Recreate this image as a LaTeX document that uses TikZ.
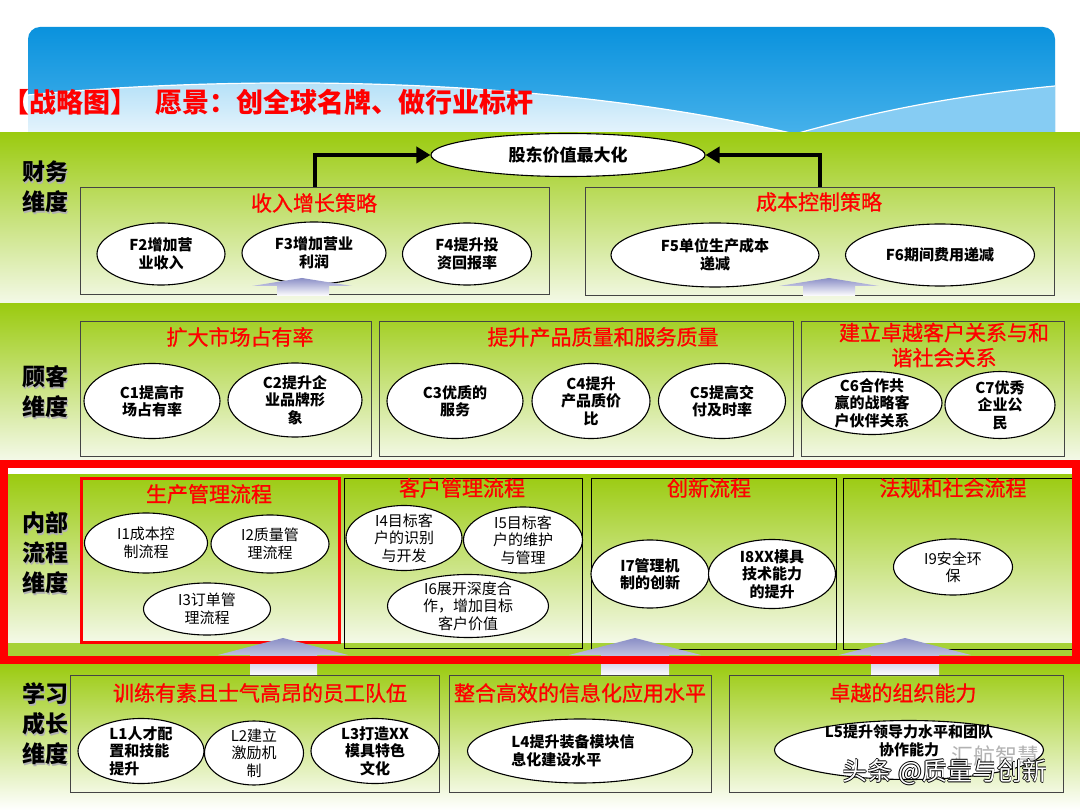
\documentclass[tikz,border=0pt]{standalone}
\usepackage{fontspec}
\setmainfont{Noto Sans CJK SC}
\newfontfamily\redtitlefont{Noto Sans CJK SC}[FakeBold=0.9]
\usetikzlibrary{arrows.meta,shapes.geometric}
\definecolor{gtop}{HTML}{9BCB10}
\definecolor{gbot}{HTML}{F4F9E8}
\definecolor{gstripe}{HTML}{A6D236}
\definecolor{btop}{HTML}{0A92DD}
\definecolor{bbot}{HTML}{55B9EE}
\definecolor{hlightA}{HTML}{A9DCF7}
\definecolor{hlightB}{HTML}{E6F4FC}
\definecolor{hmid}{HTML}{86CCF3}
\definecolor{lav}{HTML}{8A8EC6}
\definecolor{boxline}{HTML}{444444}
\begin{document}
\begin{tikzpicture}[x=1pt,y=-1pt,
  sbox/.style={draw=boxline,line width=1.3pt,inner sep=0pt,anchor=north west},
  tbox/.style={draw=black,line width=1pt,inner sep=0pt,anchor=north west},
  ttl/.style={text=red,font=\redtitlefont\fontsize{21}{25}\selectfont,inner sep=0pt,align=center},
  dimlab/.style={font=\fontsize{23}{30}\selectfont\bfseries,align=center,inner sep=0pt},
  oval/.style={ellipse,draw=black,line width=1.1pt,fill=white,inner sep=0pt},
  otxt/.style={align=center,font=\fontsize{15}{17.5}\selectfont\bfseries,inner sep=0pt},
  otxtr/.style={align=center,font=\fontsize{15}{17.5}\selectfont,inner sep=0pt},
  bigarrow/.style={line width=4.3pt,-{Triangle[length=14pt,width=16pt]}},
  uparrow/.style={top color=lav,bottom color=white,draw=none},
]
\useasboundingbox (0,0) rectangle (1080,810);
\fill[white] (0,0) rectangle (1080,810);

% ---------- blue header ----------
\shade[top color=btop,bottom color=bbot,rounded corners=12pt] (28,27) rectangle (1055,160);
\shade[top color=hlightA,bottom color=hlightB] (28,95) .. controls (200,78) and (520,70) .. (795,134) -- (28,134) -- cycle;
\fill[hmid] (795,134) .. controls (880,110) and (960,95) .. (1055,86) -- (1055,134) -- cycle;
\draw[white,line width=1.2pt] (28,95) .. controls (200,78) and (520,70) .. (795,134);
\draw[white,line width=1.2pt] (795,134) .. controls (880,110) and (960,95) .. (1055,86);

% ---------- bands ----------
\shade[top color=gtop,bottom color=gbot] (0,133) rectangle (1080,304);
\shade[top color=gtop,bottom color=gbot] (0,304) rectangle (1080,460);
\shade[top color=gtop,bottom color=white] (0,664) rectangle (1080,810);
\fill[white] (0,460) rectangle (1080,664);
\shade[top color=gtop,bottom color=gbot] (4,475) rectangle (1076,643);
\fill[gstripe] (4,643) rectangle (1076,656);

% ---------- title ----------
\node[anchor=west,text=red,font=\fontsize{27}{30}\selectfont\bfseries,inner sep=0pt] (title) at (2,102) {【战略图】\hspace{18pt}愿景：创全球名牌、做行业标杆};

% ---------- dimension labels ----------
\node[dimlab,text=black!30] (d1s) at (46.5,188.5) {财务\\维度};
\node[dimlab] (d1) at (45,187) {财务\\维度};
\node[dimlab,text=black!30] (d2s) at (46.5,393.5) {顾客\\维度};
\node[dimlab] (d2) at (45,392) {顾客\\维度};
\node[dimlab,text=black!30] (d3s) at (46.5,554.5) {内部\\流程\\维度};
\node[dimlab] (d3) at (45,553) {内部\\流程\\维度};
\node[dimlab,text=black!30] (d4s) at (46.5,725.5) {学习\\成长\\维度};
\node[dimlab] (d4) at (45,724) {学习\\成长\\维度};

% ---------- finance ----------
\node[oval,minimum width=274,minimum height=43] (sh) at (568,155) {};
\node[otxt,font=\fontsize{17}{20}\selectfont\bfseries] (sht) at (sh) {股东价值最大化};
\node[sbox,minimum width=469,minimum height=107] (fin1) at (80,187) {};
\node[sbox,minimum width=469,minimum height=108] (fin2) at (585,187) {};
\node[ttl] (fin1t) at (314,203) {收入增长策略};
\node[ttl] (fin2t) at (819,202) {成本控制策略};
\draw[bigarrow] (fin1.north) |- (sh.west);
\draw[bigarrow] (fin2.north) |- (sh.east);

\node[oval,minimum width=128,minimum height=62] (f2) at (161,254) {};
\node[otxt,font=\fontsize{15}{18}\selectfont\bfseries] (f2t) at (f2) {F2增加营\\业收入};
\node[oval,minimum width=144,minimum height=62] (f3) at (314,253) {};
\node[otxt,font=\fontsize{15}{18}\selectfont\bfseries] (f3t) at (f3) {F3增加营业\\利润};
\node[oval,minimum width=129,minimum height=62] (f4) at (467,254) {};
\node[otxt,font=\fontsize{15}{18}\selectfont\bfseries] (f4t) at (f4) {F4提升投\\资回报率};
\node[oval,minimum width=208,minimum height=64] (f5) at (715,255) {};
\node[otxt,font=\fontsize{15}{18}\selectfont\bfseries] (f5t) at (f5) {F5单位生产成本\\递减};
\node[oval,minimum width=189,minimum height=62] (f6) at (940,255) {};
\node[otxt,font=\fontsize{15}{18}\selectfont\bfseries] (f6t) at (f6) {F6期间费用递减};

\shade[uparrow] (302,278) -- (352,286) -- (329,286) -- (329,296) -- (277,296) -- (277,286) -- (252,286) -- cycle;
\shade[uparrow] (829,278) -- (879,286) -- (855,286) -- (855,296) -- (803,296) -- (803,286) -- (779,286) -- cycle;

% ---------- customer ----------
\node[sbox,minimum width=291,minimum height=135] (cb1) at (80,321) {};
\node[sbox,minimum width=414,minimum height=135] (cb2) at (379,321) {};
\node[sbox,minimum width=263,minimum height=135] (cb3) at (801,321) {};
\node[ttl] (cb1t) at (240,337) {扩大市场占有率};
\node[ttl] (cb2t) at (603,337) {提升产品质量和服务质量};
\node[ttl] (cb3t) at (944,345) {建立卓越客户关系与和\\谐社会关系};

\node[oval,minimum width=136,minimum height=75] (c1) at (152,401) {};
\node[otxt] (c1t) at (c1) {C1提高市\\场占有率};
\node[oval,minimum width=134,minimum height=74] (c2) at (295,400) {};
\node[otxt] (c2t) at (c2) {C2提升企\\业品牌形\\象};
\node[oval,minimum width=136,minimum height=75] (c3) at (455,401) {};
\node[otxt] (c3t) at (c3) {C3优质的\\服务};
\node[oval,minimum width=118,minimum height=75] (c4) at (591,401) {};
\node[otxt] (c4t) at (c4) {C4提升\\产品质价\\比};
\node[oval,minimum width=127,minimum height=75] (c5) at (722,401) {};
\node[otxt] (c5t) at (c5) {C5提高交\\付及时率};
\node[oval,minimum width=140,minimum height=63] (c6) at (872,403) {};
\node[otxt] (c6t) at (c6) {C6合作共\\赢的战略客\\户伙伴关系};
\node[oval,minimum width=110,minimum height=67] (c7) at (1000,405) {};
\node[otxt] (c7t) at (c7) {C7优秀\\企业公\\民};

% ---------- internal ----------
\node[tbox,minimum width=238,minimum height=170] (ib2) at (344,478) {};
\node[tbox,minimum width=245,minimum height=171] (ib3) at (591,478) {};
\node[tbox,minimum width=231,minimum height=171] (ib4) at (843,478) {};
\node[draw=red,line width=3pt,inner sep=0pt,anchor=north west,minimum width=258,minimum height=164] (ib1) at (80,477) {};
\node[ttl] (ib1t) at (209,494) {生产管理流程};
\node[ttl] (ib2t) at (462,488) {客户管理流程};
\node[ttl] (ib3t) at (709,488) {创新流程};
\node[ttl] (ib4t) at (953,488) {法规和社会流程};

\node[oval,minimum width=123,minimum height=60] (i1) at (146,543) {};
\node[otxtr] (i1t) at (i1) {I1成本控\\制流程};
\node[oval,minimum width=118,minimum height=58] (i2) at (270,544) {};
\node[otxtr] (i2t) at (i2) {I2质量管\\理流程};
\node[oval,minimum width=127,minimum height=52] (i3) at (207,609) {};
\node[otxtr] (i3t) at (i3) {I3订单管\\理流程};
\node[oval,minimum width=116,minimum height=65] (i4) at (404,538) {};
\node[otxtr] (i4t) at (i4) {I4目标客\\户的识别\\与开发};
\node[oval,minimum width=119,minimum height=66] (i5) at (523,540) {};
\node[otxtr] (i5t) at (i5) {I5目标客\\户的维护\\与管理};
\node[oval,minimum width=161,minimum height=63] (i6) at (468,606) {};
\node[otxtr] (i6t) at (i6) {I6展开深度合\\作，增加目标\\客户价值};
\node[oval,minimum width=118,minimum height=68] (i7) at (650,574) {};
\node[otxt] (i7t) at (i7) {I7管理机\\制的创新};
\node[oval,minimum width=127,minimum height=69] (i8) at (772,574) {};
\node[otxt] (i8t) at (i8) {I8XX模具\\技术能力\\的提升};
\node[oval,minimum width=119,minimum height=56] (i9) at (953,567) {};
\node[otxtr] (i9t) at (i9) {I9安全环\\保};

\shade[uparrow] (283,638) -- (348,655) -- (317,655) -- (317,676) -- (250,676) -- (250,655) -- (218,655) -- cycle;
\shade[uparrow] (635,638) -- (701,655) -- (669,655) -- (669,676) -- (601,676) -- (601,655) -- (569,655) -- cycle;
\shade[uparrow] (905,638) -- (971,655) -- (939,655) -- (939,676) -- (871,676) -- (871,655) -- (839,655) -- cycle;

\draw[red,line width=8pt] (4,464) rectangle (1076,660);

% ---------- learning ----------
\node[sbox,minimum width=369,minimum height=117] (lb1) at (70,675) {};
\node[sbox,minimum width=262,minimum height=117] (lb2) at (449,675) {};
\node[sbox,minimum width=334,minimum height=117] (lb3) at (729,675) {};
\node[ttl] (lb1t) at (260,693) {训练有素且士气高昂的员工队伍};
\node[ttl] (lb2t) at (580,693) {整合高效的信息化应用水平};
\node[ttl] (lb3t) at (903,693) {卓越的组织能力};

\node[oval,minimum width=126,minimum height=65] (l1) at (141,751) {};
\node[otxt,align=left] (l1t) at (l1) {L1人才配\\置和技能\\提升};
\node[oval,minimum width=99,minimum height=64] (l2) at (254,753) {};
\node[otxtr] (l2t) at (l2) {L2建立\\激励机\\制};
\node[oval,minimum width=128,minimum height=65] (l3) at (375,751) {};
\node[otxt] (l3t) at (l3) {L3打造XX\\模具特色\\文化};
\node[oval,minimum width=225,minimum height=64] (l4) at (580,751) {};
\node[otxt,align=left] (l4t) at (573,751) {L4提升装备模块信\\息化建设水平};
\node[oval,minimum width=269,minimum height=59] (l5) at (909,750) {};
\node[otxt] (l5t) at (909,741) {L5提升领导力水平和团队\\协作能力};

% ---------- watermark ----------
\node[text=black!30,font=\fontsize{22}{24}\selectfont,inner sep=0pt] (wm2) at (995,756) {汇航智慧};
\node[text=black,font=\fontsize{25}{28}\selectfont,inner sep=0pt] (wma) at (945.8,772) {头条 @质量与创新};
\node[text=black,font=\fontsize{25}{28}\selectfont,inner sep=0pt] (wmb) at (944.2,772) {头条 @质量与创新};
\node[text=black,font=\fontsize{25}{28}\selectfont,inner sep=0pt] (wmc) at (945,772.8) {头条 @质量与创新};
\node[text=black,font=\fontsize{25}{28}\selectfont,inner sep=0pt] (wmd) at (945,771.2) {头条 @质量与创新};
\node[text=white,font=\fontsize{25}{28}\selectfont,inner sep=0pt] (wm) at (945,772) {头条 @质量与创新};
\end{tikzpicture}
\end{document}
